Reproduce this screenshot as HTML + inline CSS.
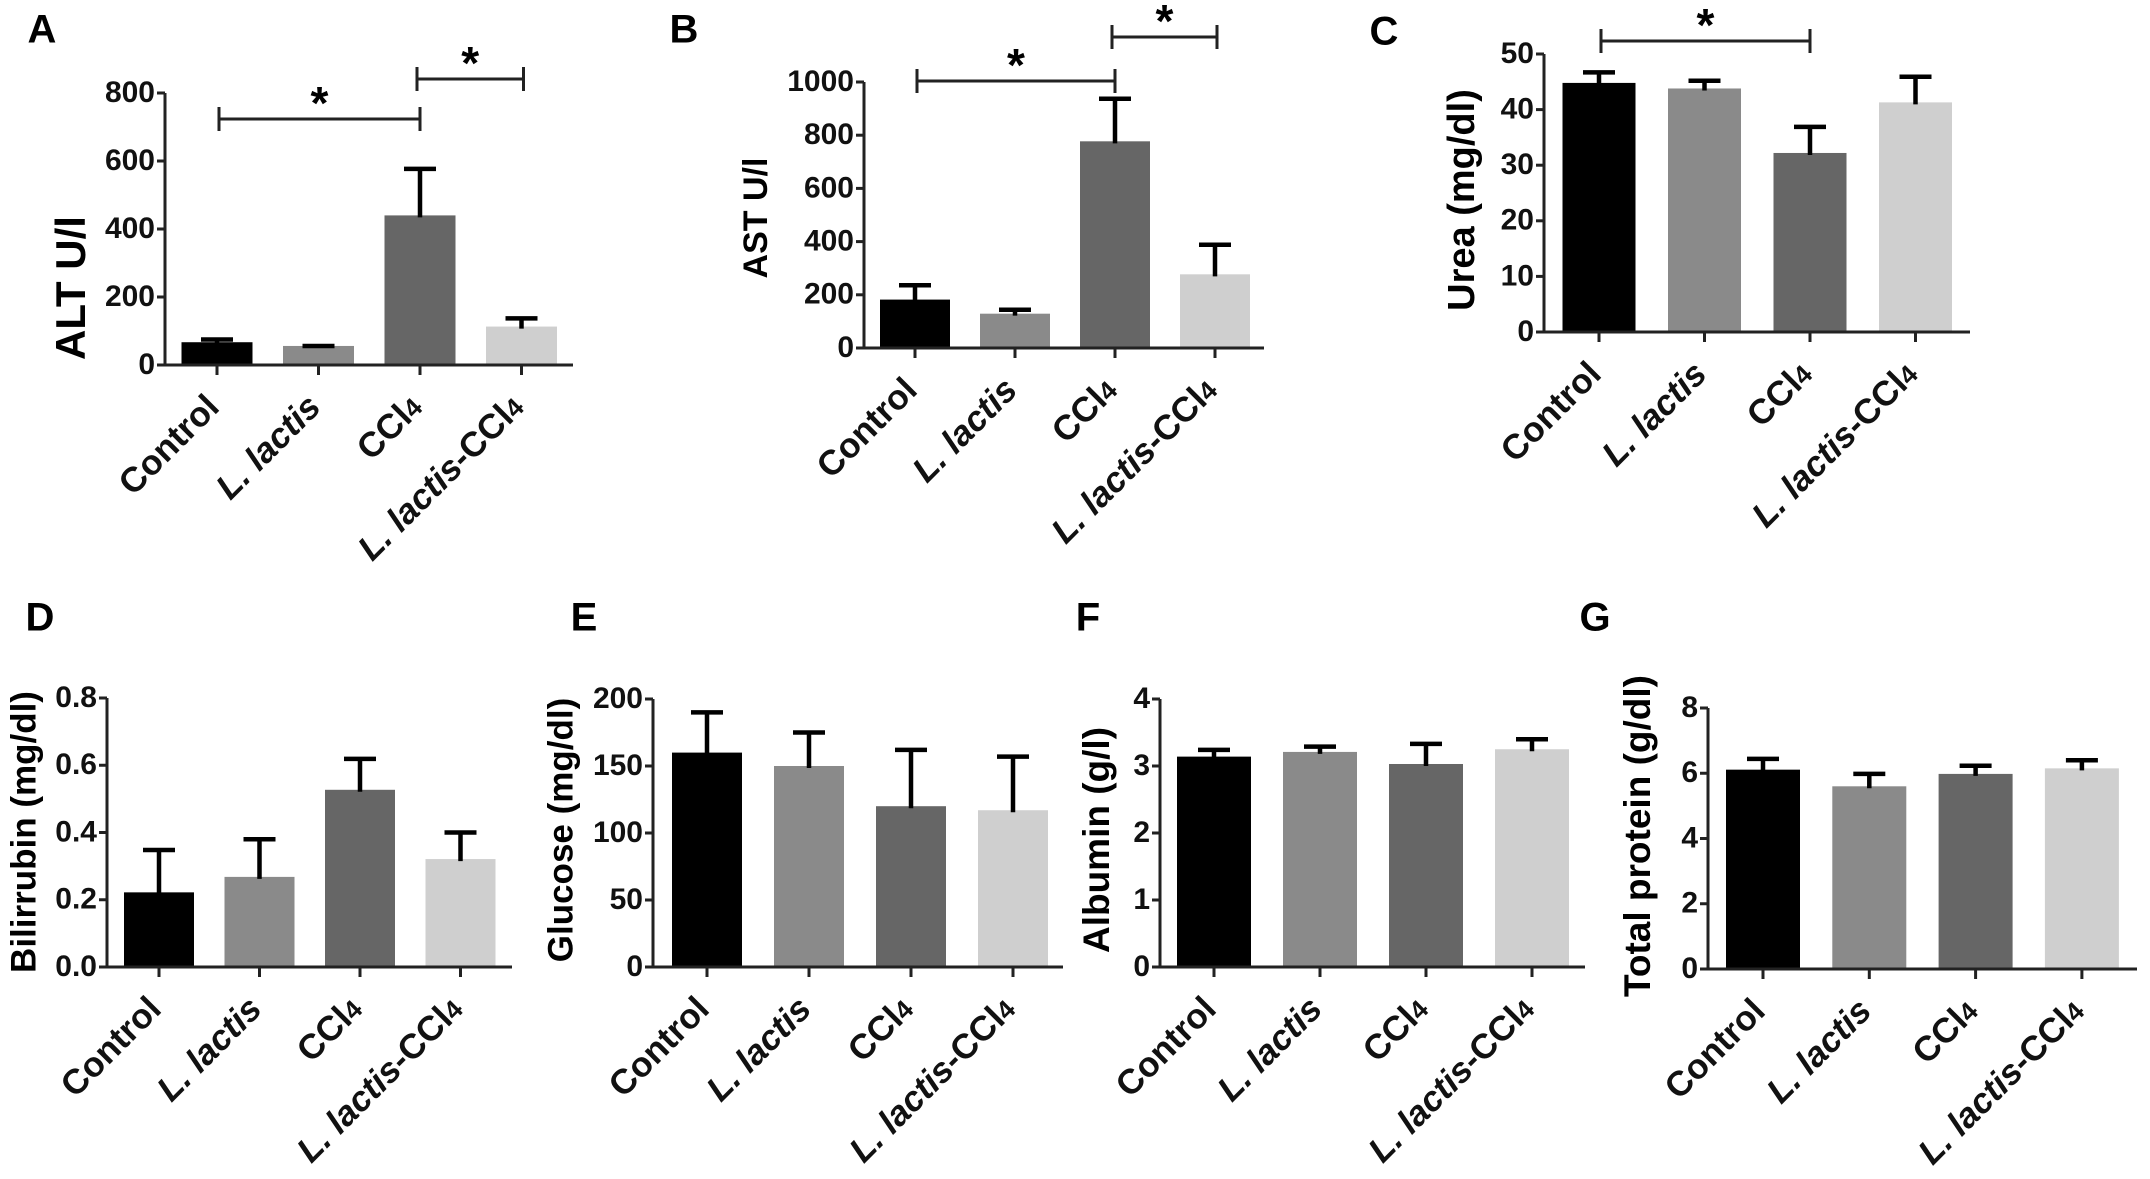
<!DOCTYPE html>
<html><head><meta charset="utf-8"><style>
html,body{margin:0;padding:0;background:#fff;}
svg{display:block;font-family:"Liberation Sans",Arial,sans-serif;font-weight:bold;}
</style></head><body>
<svg id="fig" width="2150" height="1179" viewBox="0 0 2150 1179" xmlns="http://www.w3.org/2000/svg"></svg>
<script>
const categories = ["Control", "L. lactis", "CCl4", "L. lactis-CCl4"];
const altMeans = [67, 56, 440, 113];
const altErr = [75, 56, 577, 137];
const altTicks = [0, 200, 400, 600, 800];
const astMeans = [182, 129, 777, 277];
const astErr = [236, 144, 937, 388];
const astTicks = [0, 200, 400, 600, 800, 1000];
const ureaMeans = [44.8, 43.8, 32.2, 41.3];
const ureaErr = [46.7, 45.2, 36.9, 45.9];
const ureaTicks = [0, 10, 20, 30, 40, 50];
const biliMeans = [0.222, 0.268, 0.527, 0.321];
const biliErr = [0.348, 0.380, 0.619, 0.400];
const biliTicks = ["0.0", "0.2", "0.4", "0.6", "0.8"];
const glucMeans = [160, 150, 120, 117];
const glucErr = [190, 175, 162, 157];
const glucTicks = [0, 50, 100, 150, 200];
const albMeans = [3.14, 3.21, 3.03, 3.25];
const albErr = [3.24, 3.29, 3.33, 3.40];
const albTicks = [0, 1, 2, 3, 4];
const protMeans = [6.11, 5.60, 5.98, 6.15];
const protErr = [6.44, 5.98, 6.23, 6.40];
const protTicks = [0, 2, 4, 6, 8];
const barColors = ["#000000", "#8a8a8a", "#666666", "#cfcfcf"];

const NS = "http://www.w3.org/2000/svg";
const svg = document.getElementById("fig");
function mk(tag, attrs, parent){
  const e = document.createElementNS(NS, tag);
  for (const k in attrs) e.setAttribute(k, attrs[k]);
  (parent || svg).appendChild(e);
  return e;
}

const panels = [
  {id:"a", letter:"A", lx:42, ly:32, title:"ALT U/l", tfs:42, tx:74, ty:288, ax:165, yTop:93, yBot:365, xEnd:573, x0:217, step:101.5, bw:71, ymax:800, means:altMeans, errs:altErr, ticks:altTicks,
   brackets:[[0,2,119],[2,3,79]]},
  {id:"b", letter:"B", lx:684, ly:32, title:"AST U/l", tfs:34, tx:758, ty:218, ax:864, yTop:82, yBot:348, xEnd:1264, x0:915, step:100, bw:70, ymax:1000, means:astMeans, errs:astErr, ticks:astTicks,
   brackets:[[0,2,81],[2,3,37]]},
  {id:"c", letter:"C", lx:1384, ly:34, title:"Urea (mg/dl)", tfs:38, tx:1464, ty:200, ax:1544, yTop:54, yBot:332, xEnd:1970, x0:1599, step:105.5, bw:73, ymax:50, means:ureaMeans, errs:ureaErr, ticks:ureaTicks,
   brackets:[[0,2,41]]},
  {id:"d", letter:"D", lx:40, ly:620, title:"Bilirrubin (mg/dl)", tfs:35, tx:26, ty:832, ax:107, yTop:698, yBot:967, xEnd:512, x0:159, step:100.5, bw:70, ymax:0.8, means:biliMeans, errs:biliErr, ticks:biliTicks, brackets:[]},
  {id:"e", letter:"E", lx:584, ly:620, title:"Glucose (mg/dl)", tfs:35, tx:563, ty:830, ax:653, yTop:699, yBot:967, xEnd:1063, x0:707, step:102, bw:70, ymax:200, means:glucMeans, errs:glucErr, ticks:glucTicks, brackets:[]},
  {id:"f", letter:"F", lx:1088, ly:620, title:"Albumin (g/l)", tfs:37, tx:1099, ty:840, ax:1160, yTop:699, yBot:967, xEnd:1585, x0:1214, step:106, bw:74, ymax:4, means:albMeans, errs:albErr, ticks:albTicks, brackets:[]},
  {id:"g", letter:"G", lx:1595, ly:620, title:"Total protein (g/dl)", tfs:37, tx:1640, ty:836, ax:1708, yTop:708, yBot:969, xEnd:2137, x0:1763, step:106.3, bw:74, ymax:8, means:protMeans, errs:protErr, ticks:protTicks, brackets:[]}
];

panels.forEach(p => {
  const g = mk("g", {});
  
  
  const yS = v => p.yBot - (parseFloat(v) / p.ymax) * (p.yBot - p.yTop);
  const xS = i => p.x0 + i * p.step;

  const L = mk("text", {x:p.lx, y:p.ly, "font-size":40, "text-anchor":"middle", "dominant-baseline":"middle"}, g);
  L.textContent = p.letter;
  
  

  const T = mk("text", {x:0, y:0, "font-size":p.tfs, "text-anchor":"middle", "dominant-baseline":"middle", transform:`translate(${p.tx},${p.ty}) rotate(-90)`}, g);
  T.textContent = p.title;
  
  

  p.means.forEach((m, i) => {
    const cx = xS(i);
    const r = mk("rect", {x:cx - p.bw/2, y:yS(m), width:p.bw, height:p.yBot - yS(m), fill:barColors[i]}, g);
    
    
    const e = p.errs[i];
    const eb = mk("path", {d:`M${cx},${yS(m)+2}V${yS(e)}M${cx-16},${yS(e)}H${cx+16}`, stroke:"#000", "stroke-width":4.5, fill:"none"}, g);
    
    
  });

  const ya = mk("path", {d:`M${p.ax},${p.yTop}V${p.yBot}`, stroke:"#222", "stroke-width":3}, g);
  
  
  const xa = mk("path", {d:`M${p.ax-2},${p.yBot}H${p.xEnd}`, stroke:"#222", "stroke-width":3}, g);
  
  

  p.ticks.forEach(t => {
    const y = yS(t);
    mk("path", {d:`M${p.ax-8},${y}H${p.ax}`, stroke:"#222", "stroke-width":3}, g);
    const tl = mk("text", {x:p.ax - 10, y:y + 1, "font-size":30, "text-anchor":"end", "dominant-baseline":"middle", fill:"#111"}, g);
    tl.textContent = t;
    
    
  });

  categories.forEach((c, i) => {
    const cx = xS(i);
    mk("path", {d:`M${cx},${p.yBot}V${p.yBot+10}`, stroke:"#222", "stroke-width":3}, g);
    const tx = mk("text", {x:0, y:0, "font-size":35, "text-anchor":"end", fill:"#111", transform:`translate(${cx+4},${p.yBot+44}) rotate(-45)`}, g);
    
    
    if (c === "L. lactis") {
      const s = mk("tspan", {"font-style":"italic"}, tx); s.textContent = "L. lactis";
    } else if (c === "CCl4") {
      const s = mk("tspan", {}, tx); s.textContent = "CCl";
      const s2 = mk("tspan", {"font-size":26}, tx); s2.textContent = "4";
    } else if (c === "L. lactis-CCl4") {
      const s = mk("tspan", {"font-style":"italic"}, tx); s.textContent = "L. lactis";
      const s1 = mk("tspan", {}, tx); s1.textContent = "-CCl";
      const s2 = mk("tspan", {"font-size":26}, tx); s2.textContent = "4";
    } else {
      tx.textContent = c;
    }
  });

  p.brackets.forEach(b => {
    const x1 = b[0] === 2 ? xS(b[0]) - 3 : xS(b[0]) + 2;
    const x2 = b[0] === 2 ? xS(b[1]) + 2 : xS(b[1]);
    const y = b[2];
    const br = mk("path", {d:`M${x1},${y-12}V${y+12}M${x1},${y}H${x2}M${x2},${y-12}V${y+12}`, stroke:"#222", "stroke-width":3, fill:"none"}, g);
    
    
    const st = mk("text", {x:(x1 + x2) / 2, y:y, "font-size":46, "text-anchor":"middle"}, g);
    st.textContent = "*";
    
    
  });
});
</script>
</body></html>
